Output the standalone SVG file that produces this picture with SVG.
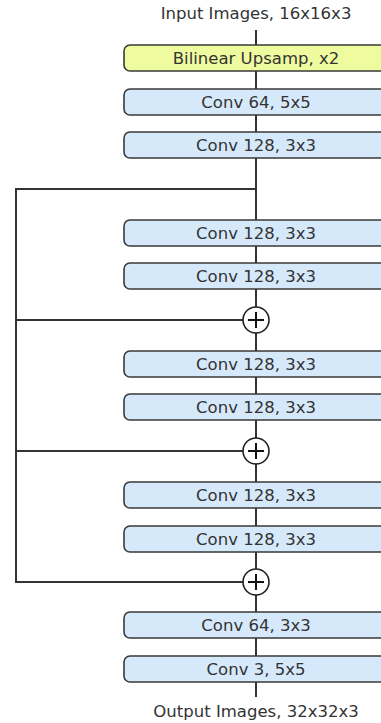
<svg xmlns="http://www.w3.org/2000/svg" width="381" height="723" viewBox="0 0 381 723">
<style>
.box{fill:#d6e9fb;stroke:#3a3a3a;stroke-width:1.6}
.up{fill:#eefb9e;stroke:#3a3a3a;stroke-width:1.6}
.t{font-family:"DejaVu Sans",Verdana,sans-serif;font-size:16.5px;fill:#333;text-anchor:middle}
.ln{stroke:#333;stroke-width:2;fill:none}
.sum{fill:#fff;stroke:#222;stroke-width:1.6}
.plus{stroke:#111;stroke-width:2}
</style>
<rect width="381" height="723" fill="#fff"/>
<g id="connectors">
<line class="ln" x1="256" y1="30" x2="256" y2="697"/>
<polyline class="ln" points="256,189 16,189 16,583"/>
<line class="ln" x1="16" y1="320" x2="244" y2="320"/>
<line class="ln" x1="16" y1="451" x2="244" y2="451"/>
<line class="ln" x1="16" y1="582" x2="244" y2="582"/>
</g>
<g id="input"><text class="t" x="256" y="19">Input Images, 16x16x3</text></g>
<g id="upsamp"><rect class="up" x="124" y="45" width="264" height="26" rx="6"/><text class="t" x="256" y="64">Bilinear Upsamp, x2</text></g>
<g id="conv1"><rect class="box" x="124" y="89" width="264" height="26" rx="6"/><text class="t" x="256" y="108">Conv 64, 5x5</text></g>
<g id="conv2"><rect class="box" x="124" y="132" width="264" height="26" rx="6"/><text class="t" x="256" y="151">Conv 128, 3x3</text></g>
<g id="conv3"><rect class="box" x="124" y="220" width="264" height="26" rx="6"/><text class="t" x="256" y="239">Conv 128, 3x3</text></g>
<g id="conv4"><rect class="box" x="124" y="263" width="264" height="26" rx="6"/><text class="t" x="256" y="282">Conv 128, 3x3</text></g>
<g id="sum1"><circle class="sum" cx="256" cy="320" r="13"/><line class="plus" x1="248" y1="320" x2="264" y2="320"/><line class="plus" x1="256" y1="312" x2="256" y2="328"/></g>
<g id="conv5"><rect class="box" x="124" y="351" width="264" height="26" rx="6"/><text class="t" x="256" y="370">Conv 128, 3x3</text></g>
<g id="conv6"><rect class="box" x="124" y="394" width="264" height="26" rx="6"/><text class="t" x="256" y="413">Conv 128, 3x3</text></g>
<g id="sum2"><circle class="sum" cx="256" cy="451" r="13"/><line class="plus" x1="248" y1="451" x2="264" y2="451"/><line class="plus" x1="256" y1="443" x2="256" y2="459"/></g>
<g id="conv7"><rect class="box" x="124" y="482" width="264" height="26" rx="6"/><text class="t" x="256" y="501">Conv 128, 3x3</text></g>
<g id="conv8"><rect class="box" x="124" y="526" width="264" height="26" rx="6"/><text class="t" x="256" y="545">Conv 128, 3x3</text></g>
<g id="sum3"><circle class="sum" cx="256" cy="582" r="13"/><line class="plus" x1="248" y1="582" x2="264" y2="582"/><line class="plus" x1="256" y1="574" x2="256" y2="590"/></g>
<g id="conv9"><rect class="box" x="124" y="612" width="264" height="26" rx="6"/><text class="t" x="256" y="631">Conv 64, 3x3</text></g>
<g id="conv10"><rect class="box" x="124" y="656" width="264" height="26" rx="6"/><text class="t" x="256" y="675">Conv 3, 5x5</text></g>
<g id="output"><text class="t" x="256" y="717">Output Images, 32x32x3</text></g>
</svg>
